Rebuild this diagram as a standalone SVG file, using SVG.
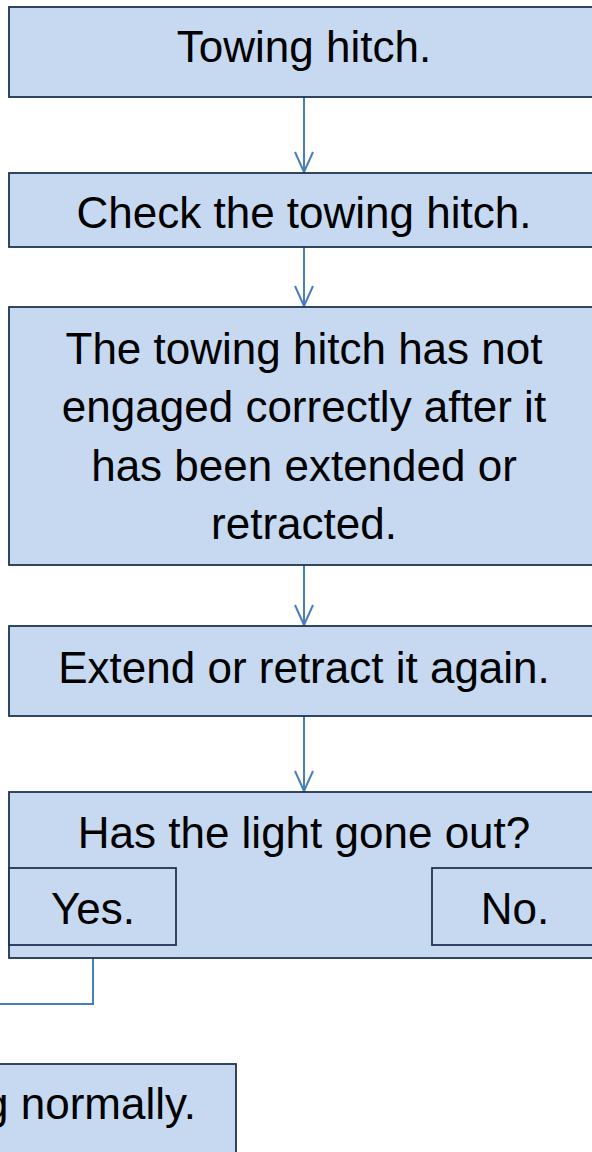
<svg xmlns="http://www.w3.org/2000/svg" width="592" height="1152" viewBox="0 0 592 1152">
<style>
.box{fill:#C6D9F1;stroke:#1F3350;stroke-width:1.8}
.t{font-family:"Liberation Sans",Arial,sans-serif;font-size:44px;fill:#000;text-anchor:middle}
.c{fill:none;stroke:#4A7EBB;stroke-width:2}
</style>
<g id="connectors">
<path class="c" d="M304,97 V172"/>
<path class="c" d="M295,152 L304,172 L313,152"/>
<path class="c" d="M304,247 V306"/>
<path class="c" d="M295,286 L304,306 L313,286"/>
<path class="c" d="M304,565 V625"/>
<path class="c" d="M295,605 L304,625 L313,605"/>
<path class="c" d="M304,716 V791"/>
<path class="c" d="M295,771 L304,791 L313,771"/>
<path class="c" d="M93,945 V1004 H0"/>
</g>
<g id="n1"><rect class="box" x="9" y="7" width="590" height="90"/><text class="t" x="304" y="62">Towing hitch.</text></g>
<g id="n2"><rect class="box" x="9" y="173" width="590" height="74"/><text class="t" x="304" y="228">Check the towing hitch.</text></g>
<g id="n3"><rect class="box" x="9" y="307" width="590" height="258"/>
<text class="t" x="304" y="364">The towing hitch has not</text>
<text class="t" x="304" y="422">engaged correctly after it</text>
<text class="t" x="304" y="481">has been extended or</text>
<text class="t" x="304" y="539">retracted.</text></g>
<g id="n4"><rect class="box" x="9" y="626" width="590" height="90"/><text class="t" x="304" y="683">Extend or retract it again.</text></g>
<g id="n5"><rect class="box" x="9" y="792" width="590" height="166"/><text class="t" x="304" y="848">Has the light gone out?</text></g>
<g id="yes"><rect class="box" x="9" y="868" width="167" height="77"/><text class="t" x="93" y="924">Yes.</text></g>
<g id="no"><rect class="box" x="432" y="868" width="167" height="77"/><text class="t" x="515" y="924">No.</text></g>
<g id="n6"><rect class="box" x="-10" y="1064" width="246" height="100"/><text class="t" x="196" y="1119" style="text-anchor:end">g normally.</text></g>
</svg>
